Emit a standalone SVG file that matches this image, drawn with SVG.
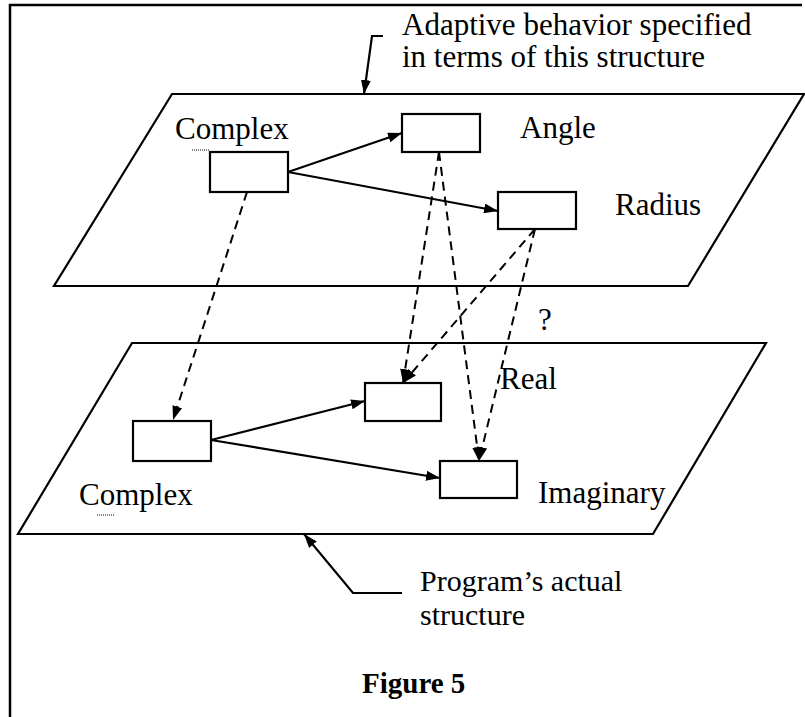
<svg xmlns="http://www.w3.org/2000/svg" width="805" height="717" viewBox="0 0 805 717">
<defs>
<style>
.t{font-family:"Liberation Serif","Times New Roman",serif;font-size:31px;fill:#000}
.t2{font-family:"Liberation Serif","Times New Roman",serif;font-size:30px;fill:#000}
.fig{font-family:"Liberation Serif","Times New Roman",serif;font-size:29px;font-weight:bold;fill:#000}
.plane{fill:none;stroke:#000;stroke-width:2.2}
.box{fill:#fff;stroke:#000;stroke-width:2.2}
.solid{fill:none;stroke:#000;stroke-width:2.2}
.dash{fill:none;stroke:#000;stroke-width:2;stroke-dasharray:9 6}
.dot{fill:none;stroke:#000;stroke-width:1;stroke-dasharray:1 1}
</style>
<marker id="ah" viewBox="0 0 14 10" refX="14" refY="5" markerWidth="14" markerHeight="10" markerUnits="userSpaceOnUse" orient="auto">
<path d="M0,0 L14,5 L0,10 Z" fill="#000"/>
</marker>
</defs>
<rect width="805" height="717" fill="#fff"/>
<path d="M10,717 L10,5 L802,5" fill="none" stroke="#000" stroke-width="2.5"/>

<g id="upper-plane">
<polygon class="plane" points="172,94 804,94 688,286 54,286"/>
</g>
<g id="lower-plane">
<polygon class="plane" points="132,343 766,343 653,534 18,534"/>
</g>

<g id="connectors">
<line class="solid" x1="288" y1="172" x2="402" y2="133" marker-end="url(#ah)"/>
<line class="solid" x1="288" y1="172" x2="498" y2="211" marker-end="url(#ah)"/>
<line class="solid" x1="211" y1="440" x2="365" y2="401" marker-end="url(#ah)"/>
<line class="solid" x1="211" y1="440" x2="440" y2="478" marker-end="url(#ah)"/>
<line class="dash" x1="247" y1="192" x2="173" y2="420" marker-end="url(#ah)"/>
<line class="dash" x1="439" y1="152" x2="403" y2="383" marker-end="url(#ah)"/>
<line class="dash" x1="439" y1="152" x2="479" y2="461" marker-end="url(#ah)"/>
<line class="dash" x1="535" y1="229" x2="403" y2="383" marker-end="url(#ah)"/>
<line class="dash" x1="535" y1="229" x2="479" y2="461" marker-end="url(#ah)"/>
<polyline class="solid" points="383,36 372,36 364,94" marker-end="url(#ah)"/>
<polyline class="solid" points="402,593 353,593 304,534" marker-end="url(#ah)"/>
</g>

<g id="upper-complex">
<rect class="box" x="210" y="152" width="78" height="40"/>
<text class="t" x="175" y="139">Complex</text>
<line class="dot" x1="192" y1="150" x2="209" y2="150"/>
</g>
<g id="angle">
<rect class="box" x="402" y="114" width="78" height="38"/>
<text class="t" x="520" y="138">Angle</text>
</g>
<g id="radius">
<rect class="box" x="498" y="192" width="78" height="37"/>
<text class="t" x="615" y="215">Radius</text>
</g>
<g id="lower-complex">
<rect class="box" x="133" y="421" width="78" height="40"/>
<text class="t" x="79" y="505">Complex</text>
<line class="dot" x1="97" y1="515" x2="114" y2="515"/>
</g>
<g id="real">
<rect class="box" x="365" y="383" width="76" height="38"/>
<text class="t" x="500" y="389">Real</text>
</g>
<g id="imaginary">
<rect class="box" x="440" y="461" width="77" height="37"/>
<text class="t" x="538" y="503">Imaginary</text>
</g>

<g id="labels">
<text class="t" x="402" y="35">Adaptive behavior specified</text>
<text class="t" x="402" y="67">in terms of this structure</text>
<text class="t" x="538" y="330">?</text>
<text class="t2" x="420" y="591">Program’s actual</text>
<text class="t2" x="420" y="625">structure</text>
<text class="fig" x="362" y="693">Figure 5</text>
</g>
</svg>
